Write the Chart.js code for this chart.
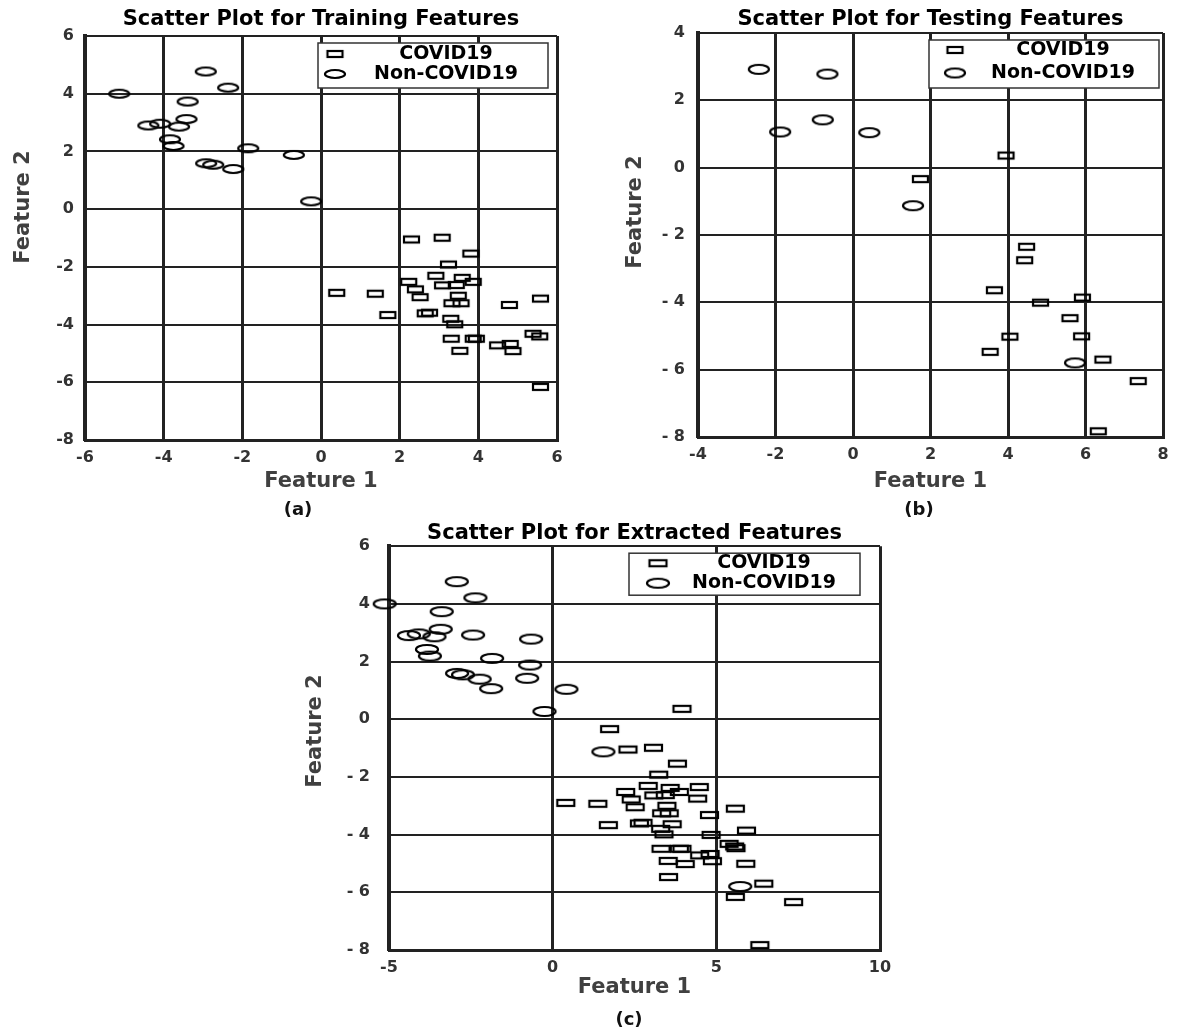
<!DOCTYPE html>
<html>
<head>
<meta charset="utf-8">
<script src="https://cdn.jsdelivr.net/npm/chart.js@4.4.1/dist/chart.umd.min.js"></script>
<style>
  body { margin: 0; background: #fff; width: 1178px; height: 1029px; position: relative; overflow: hidden; }
  .panel { position: absolute; }
  .cap { position: absolute; font: bold 18px "DejaVu Sans", sans-serif; color: #111; transform: translate(-50%, -50%); white-space: nowrap; }
</style>
</head>
<body>
<div class="panel" style="left:0px;top:0px;width:580px;height:520px"><canvas id="chart-a"></canvas></div>
<div class="panel" style="left:590px;top:0px;width:588px;height:520px"><canvas id="chart-b"></canvas></div>
<div class="panel" style="left:290px;top:510px;width:620px;height:519px"><canvas id="chart-c"></canvas></div>
<div class="cap" style="left:298px;top:508px">(a)</div>
<div class="cap" style="left:919px;top:508px">(b)</div>
<div class="cap" style="left:629px;top:1018px">(c)</div>
<script>
/*
  DATA : values
*/
var trainCovidX = [2.30, 3.08, 3.81, 3.24, 2.92, 2.23, 3.59, 3.87, 3.09, 3.44, 2.40, 2.52, 0.40, 1.38, 3.49, 3.33, 3.56, 5.58, 4.79, 1.70, 2.65, 2.76, 3.30, 3.40, 3.31, 3.87, 3.95, 5.39, 5.56, 3.53, 4.49, 4.81, 4.88, 5.58];
var trainCovidY = [-1.05, -0.99, -1.54, -1.92, -2.31, -2.52, -2.38, -2.52, -2.64, -2.63, -2.78, -3.05, -2.90, -2.93, -3.00, -3.26, -3.26, -3.10, -3.32, -3.67, -3.61, -3.59, -3.80, -3.99, -4.49, -4.49, -4.49, -4.32, -4.41, -4.91, -4.72, -4.67, -4.92, -6.16];
var trainNonX = [-5.13, -2.93, -2.36, -3.39, -3.42, -4.39, -4.09, -3.61, -3.84, -3.75, -1.85, -0.69, -2.92, -2.74, -2.23, -0.25];
var trainNonY = [4.00, 4.77, 4.21, 3.73, 3.12, 2.90, 2.96, 2.86, 2.42, 2.19, 2.11, 1.88, 1.59, 1.54, 1.39, 0.27];
var testCovidX = [3.95, 1.74, 4.48, 4.43, 3.65, 4.84, 5.92, 5.60, 4.05, 5.90, 3.54, 6.45, 7.36, 6.33];
var testCovidY = [0.36, -0.34, -2.35, -2.75, -3.64, -4.01, -3.86, -4.47, -5.02, -5.01, -5.47, -5.70, -6.34, -7.83];
var testNonX = [-2.43, -0.66, -0.78, -1.88, 0.42, 1.55, 5.73];
var testNonY = [2.92, 2.78, 1.42, 1.06, 1.04, -1.13, -5.80];

var xTicksA = [-6, -4, -2, 0, 2, 4, 6];
var yTicksA = [-8, -6, -4, -2, 0, 2, 4, 6];
var xTicksB = [-4, -2, 0, 2, 4, 6, 8];
var yTicksB = [-8, -6, -4, -2, 0, 2, 4];
var xTicksC = [-5, 0, 5, 10];
var yTicksC = [-8, -6, -4, -2, 0, 2, 4, 6];

var LABELS = ['COVID19', 'Non-COVID19'];
var GRID = '#222';
var FONT = '"DejaVu Sans", sans-serif';

Chart.defaults.font.family = FONT;

/*
  NAME : toPoints
  ROLE : zip two value lists into {x, y} points
*/
function toPoints(xs, ys) {
  return xs.map(function (x, i) { return { x: x, y: ys[i] }; });
}

/*
  NAME : marker
  ROLE : small canvas used as pointStyle (open rectangle or open ellipse)
*/
function marker(shape, w, h) {
  var c = document.createElement('canvas');
  c.width = w + 6; c.height = h + 6;
  var ctx = c.getContext('2d');
  ctx.lineWidth = 2.2;
  ctx.strokeStyle = '#000';
  if (shape === 'rect') {
    ctx.strokeRect(3, 3, w, h);
  } else {
    ctx.beginPath();
    ctx.ellipse(c.width / 2, c.height / 2, w / 2, h / 2, 0, 0, Math.PI * 2);
    ctx.stroke();
  }
  return c;
}

// legend drawn as a white box inside the plot area, top right
var boxLegend = {
  id: 'boxLegend',
  afterDatasetsDraw: function (chart, args, opts) {
    var ctx = chart.ctx, a = chart.chartArea;
    var left = a.right - opts.right - opts.width;
    var top = a.top + opts.top;
    ctx.save();
    ctx.fillStyle = '#fff';
    ctx.fillRect(left, top, opts.width, opts.height);
    ctx.lineWidth = 1.5;
    ctx.strokeStyle = '#333';
    ctx.strokeRect(left, top, opts.width, opts.height);
    ctx.font = 'bold 19px ' + FONT;
    ctx.fillStyle = '#000';
    ctx.textAlign = 'center';
    ctx.textBaseline = 'middle';
    chart.data.datasets.forEach(function (ds, i) {
      var y = top + opts.rows[i];
      var img = ds.pointStyle;
      ctx.drawImage(img, left + opts.markerX - img.width / 2, y - img.height / 2);
      ctx.fillText(ds.label, left + opts.textX, y);
    });
    ctx.restore();
  }
};

// vertical axis name, placed a little above the middle as in the source figure
var yName = {
  id: 'yName',
  afterDraw: function (chart, args, opts) {
    var ctx = chart.ctx;
    ctx.save();
    ctx.translate(opts.x, opts.y);
    ctx.rotate(-Math.PI / 2);
    ctx.font = 'bold 21px ' + FONT;
    ctx.fillStyle = '#404040';
    ctx.textAlign = 'center';
    ctx.textBaseline = 'middle';
    ctx.fillText(opts.text, 0, 0);
    ctx.restore();
  }
};

function tickLabel(spaced) {
  return function (v) {
    if (spaced && v < 0) return '- ' + (-v);
    return String(v);
  };
}

/*
  NAME : makeChart
  ROLE : build one scatter panel from the named lists
*/
function makeChart(id, p) {
  return new Chart(document.getElementById(id), {
    type: 'scatter',
    data: {
      datasets: [
        { label: LABELS[0], data: p.covid, pointStyle: p.rectMark, pointRadius: 9, clip: false },
        { label: LABELS[1], data: p.non, pointStyle: p.ovalMark, pointRadius: 11, clip: false }
      ]
    },
    options: {
      responsive: true,
      maintainAspectRatio: false,
      animation: false,
      events: [],
      layout: { padding: { left: 0, top: 0, right: p.padRight, bottom: 0 } },
      plugins: {
        legend: { display: false },
        tooltip: { enabled: false },
        title: {
          display: true, text: p.title, color: '#000', fullSize: false,
          font: { size: 21, weight: 'bold' },
          padding: { top: p.titleTop, bottom: p.titleBottom }
        },
        boxLegend: p.legend,
        yName: { text: 'Feature 2', x: p.yNameAt[0], y: p.yNameAt[1] }
      },
      scales: {
        x: {
          type: 'linear', min: p.xTicks[0], max: p.xTicks[p.xTicks.length - 1],
          afterBuildTicks: function (s) { s.ticks = p.xTicks.map(function (v) { return { value: v }; }); },
          afterFit: function (s) { s.height = p.xHeight; },
          grid: { color: GRID, lineWidth: 3, drawTicks: false },
          border: { color: GRID, width: 3 },
          ticks: { color: '#333', padding: 8, font: { size: 16, weight: 'bold' }, callback: tickLabel(false) },
          title: { display: true, text: 'Feature 1', color: '#404040', font: { size: 21, weight: 'bold' }, padding: { top: 0, bottom: p.xTitleBottom } }
        },
        y: {
          type: 'linear', min: p.yTicks[0], max: p.yTicks[p.yTicks.length - 1],
          afterBuildTicks: function (s) { s.ticks = p.yTicks.map(function (v) { return { value: v }; }); },
          afterFit: function (s) { s.width = p.yWidth; },
          grid: { color: GRID, lineWidth: 2, drawTicks: false },
          border: { color: GRID, width: 4 },
          ticks: { color: '#333', padding: p.yTickPad, font: { size: 16, weight: 'bold' }, callback: tickLabel(p.spaced) },
          title: { display: false }
        }
      }
    },
    plugins: [boxLegend, yName]
  });
}

makeChart('chart-a', {
  title: 'Scatter Plot for Training Features',
  covid: toPoints(trainCovidX, trainCovidY),
  non: toPoints(trainNonX, trainNonY),
  rectMark: marker('rect', 15, 6), ovalMark: marker('oval', 20, 8),
  xTicks: xTicksA, yTicks: yTicksA, spaced: false,
  padRight: 23, titleTop: 7, titleBottom: 3.8,
  xHeight: 80, yWidth: 85, yTickPad: 11, xTitleBottom: 25.4, yNameAt: [24, 207],
  legend: { width: 230, height: 45, right: 9, top: 7, rows: [11, 31], markerX: 17, textX: 128 }
});

makeChart('chart-b', {
  title: 'Scatter Plot for Testing Features',
  covid: toPoints(testCovidX, testCovidY),
  non: toPoints(testNonX, testNonY),
  rectMark: marker('rect', 15, 6), ovalMark: marker('oval', 20, 9),
  xTicks: xTicksB, yTicks: yTicksB, spaced: true,
  padRight: 15, titleTop: 7, titleBottom: 0.8,
  xHeight: 83, yWidth: 108, yTickPad: 13, xTitleBottom: 25.4, yNameAt: [46, 212],
  legend: { width: 230, height: 48, right: 4, top: 7, rows: [10, 33], markerX: 26, textX: 134 }
});

makeChart('chart-c', {
  title: 'Scatter Plot for Extracted Features',
  covid: toPoints(trainCovidX.concat(testCovidX), trainCovidY.concat(testCovidY)),
  non: toPoints(trainNonX.concat(testNonX), trainNonY.concat(testNonY)),
  rectMark: marker('rect', 17, 6), ovalMark: marker('oval', 22, 9),
  xTicks: xTicksC, yTicks: yTicksC, spaced: true,
  padRight: 30, titleTop: 11, titleBottom: 0,
  xHeight: 79, yWidth: 99, yTickPad: 19, xTitleBottom: 28.4, yNameAt: [26, 221],
  legend: { width: 231, height: 42, right: 20, top: 7, rows: [10, 30], markerX: 29, textX: 135 }
});
</script>
</body>
</html>
